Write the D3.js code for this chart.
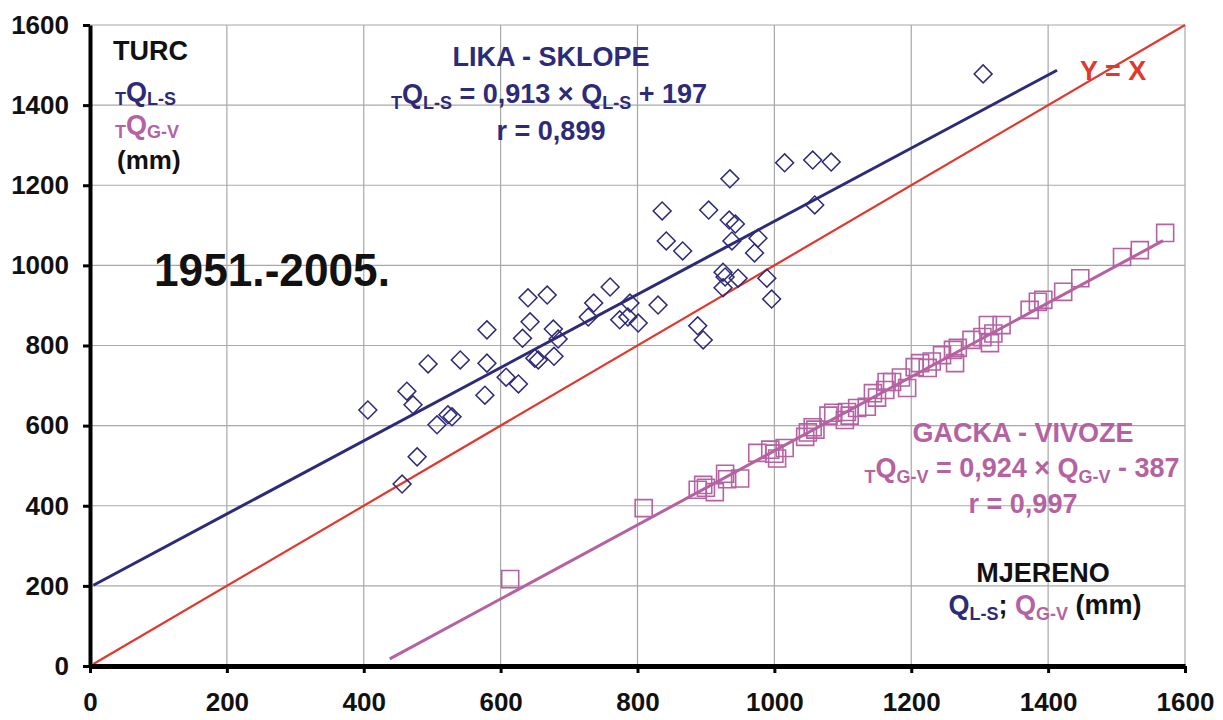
<!DOCTYPE html>
<html>
<head>
<meta charset="utf-8">
<script src="https://cdn.jsdelivr.net/npm/d3@7"></script>
<style>
  body { margin: 0; background: #fff; }
  svg text { font-family: "Liberation Sans", Arial, sans-serif; font-weight: bold; }
</style>
</head>
<body>
<script>
// Lika - Sklope: measured (x) vs Turc (y), mm
var likaMeasured = [406,456,463,472,478,494,507,523,529,541,577,580,580,608,626,632,640,643,650,655,
    668,677,684,678,728,736,760,774,786,789,801,830,888,896,925,928,925,947,989,996,
    836,842,866,904,935,934,943,938,976,971,1015,1056,1083,1059,1305];
var likaTurc = [639,454,686,652,522,754,602,627,622,764,676,756,839,721,704,818,919,859,768,764,
    926,841,816,773,871,906,946,864,871,906,856,901,849,814,983,971,944,968,968,916,
    1136,1061,1036,1138,1216,1113,1103,1061,1068,1031,1256,1263,1258,1151,1478];

// Gacka - Vivoze: measured (x) vs Turc (y), mm
var gackaMeasured = [614,809,888,896,900,913,928,931,950,975,994,1000,1004,1015,1045,1049,1056,1060,1079,1086,
    1103,1106,1110,1121,1135,1144,1150,1162,1164,1172,1185,1194,1205,1213,1224,1230,1245,1261,1264,1268,
    1288,1304,1312,1315,1320,1332,1373,1385,1393,1422,1447,1508,1534,1571];
var gackaTurc = [217,394,440,452,445,434,480,466,468,532,540,530,518,544,572,583,596,590,625,632,
    614,634,625,644,647,681,670,689,709,709,720,694,746,756,744,760,776,789,756,794,
    814,821,851,806,830,851,889,909,914,934,968,1021,1038,1081];

// regression lines: [slope, intercept, xStart, xEnd]
var likaFit = [0.913, 197, 5, 1413];
var gackaFit = [0.924, -387, 438, 1568];
var identity = [1, 0, 5, 1600];

var axisTicks = [0, 200, 400, 600, 800, 1000, 1200, 1400, 1600];

var navy = "#2d2a78", pink = "#b562a3", red = "#e2382c";

var width = 1223, height = 720;
var svg = d3.select("body").append("svg")
    .attr("width", width)
    .attr("height", height);

var x = d3.scaleLinear().domain([0, 1600]).range([90, 1185]);
var y = d3.scaleLinear().domain([0, 1600]).range([666, 25]);

//grid lines
svg.append("g").selectAll("line.gx")
    .data(axisTicks.slice(1))
    .enter().append("line")
    .attr("x1", function(d){ return x(d); })
    .attr("x2", function(d){ return x(d); })
    .attr("y1", y(0)).attr("y2", y(1600))
    .attr("stroke", "#a8a8a8").attr("stroke-width", 1.2);
svg.append("g").selectAll("line.gy")
    .data(axisTicks.slice(1))
    .enter().append("line")
    .attr("y1", function(d){ return y(d); })
    .attr("y2", function(d){ return y(d); })
    .attr("x1", x(0)).attr("x2", x(1600))
    .attr("stroke", "#a8a8a8").attr("stroke-width", 1.2);

//fit lines
function fitLine(fit, color, w){
    svg.append("line")
        .attr("x1", x(fit[2])).attr("y1", y(fit[0] * fit[2] + fit[1]))
        .attr("x2", x(fit[3])).attr("y2", y(fit[0] * fit[3] + fit[1]))
        .attr("stroke", color).attr("stroke-width", w);
}
fitLine(identity, red, 2.2);
fitLine(likaFit, navy, 3);
fitLine(gackaFit, pink, 3);

//diamonds
var diamond = d3.symbol().type(d3.symbolSquare).size(160);
svg.append("g").selectAll("path")
    .data(likaMeasured)
    .enter().append("path")
    .attr("d", diamond)
    .attr("transform", function(d, i){ return "translate(" + x(d) + "," + y(likaTurc[i]) + ") rotate(45)"; })
    .attr("fill", "none")
    .attr("stroke", navy)
    .attr("stroke-width", 1.5);

//squares
var square = d3.symbol().type(d3.symbolSquare).size(290);
svg.append("g").selectAll("path")
    .data(gackaMeasured)
    .enter().append("path")
    .attr("d", square)
    .attr("transform", function(d, i){ return "translate(" + x(d) + "," + y(gackaTurc[i]) + ")"; })
    .attr("fill", "none")
    .attr("stroke", pink)
    .attr("stroke-width", 1.6);

//axes
var yAxis = svg.append("g")
    .attr("transform", "translate(" + x(0) + ",0)")
    .call(d3.axisLeft(y).tickValues(axisTicks).tickFormat(d3.format("d")).tickSize(7).tickPadding(14).tickSizeOuter(0));
var xAxis = svg.append("g")
    .attr("transform", "translate(0," + y(0) + ")")
    .call(d3.axisBottom(x).tickValues(axisTicks).tickFormat(d3.format("d")).tickSize(7).tickPadding(20).tickSizeOuter(0));
yAxis.select(".domain").attr("stroke", "#000").attr("stroke-width", 4);
xAxis.select(".domain").attr("stroke", "#000").attr("stroke-width", 5);
svg.selectAll(".tick line").attr("stroke", "#000").attr("stroke-width", 3);
svg.selectAll(".tick text").attr("fill", "#111").style("font-size", "26px");

//rich text with subscripts
function richText(px, py, parts, anchor, size, shift){
    shift = shift || 6;
    var t = svg.append("text")
        .attr("x", px).attr("y", py)
        .attr("text-anchor", anchor || "start")
        .style("font-size", size + "px");
    var down = false;
    parts.forEach(function(p){
        var s = t.append("tspan").text(p.t).attr("fill", p.c);
        if (p.sub && !down){ s.attr("dy", shift); down = true; }
        else if (!p.sub && down){ s.attr("dy", -shift); down = false; }
        if (p.sub) s.style("font-size", Math.round(size * 0.66) + "px");
    });
    return t;
}

richText(113, 60, [{t: "TURC", c: "#111"}], "start", 27);
richText(115, 101, [{t: "T", c: navy, sub: true}, {t: "Q", c: navy}, {t: "L-S", c: navy, sub: true}], "start", 27, 4);
richText(115, 134, [{t: "T", c: pink, sub: true}, {t: "Q", c: pink}, {t: "G-V", c: pink, sub: true}], "start", 27, 4);
richText(117, 169, [{t: "(mm)", c: "#111"}], "start", 26);

richText(551, 66, [{t: "LIKA - SKLOPE", c: navy}], "middle", 27);
richText(549, 103, [{t: "T", c: navy, sub: true}, {t: "Q", c: navy}, {t: "L-S", c: navy, sub: true},
    {t: " = 0,913 × Q", c: navy}, {t: "L-S", c: navy, sub: true}, {t: " + 197", c: navy}], "middle", 27);
richText(551, 140, [{t: "r = 0,899", c: navy}], "middle", 27);

richText(272, 286, [{t: "1951.-2005.", c: "#111"}], "middle", 46).attr("textLength", 236).attr("lengthAdjust", "spacingAndGlyphs");

richText(1080, 80, [{t: "Y = X", c: red}], "start", 27);

richText(1023, 442, [{t: "GACKA - VIVOZE", c: pink}], "middle", 27);
richText(1022, 477, [{t: "T", c: pink, sub: true}, {t: "Q", c: pink}, {t: "G-V", c: pink, sub: true},
    {t: " = 0,924 × Q", c: pink}, {t: "G-V", c: pink, sub: true}, {t: " - 387", c: pink}], "middle", 27);
richText(1023, 513, [{t: "r = 0,997", c: pink}], "middle", 27);

richText(1043, 582, [{t: "MJERENO", c: "#111"}], "middle", 27);
richText(1045, 614, [{t: "Q", c: navy}, {t: "L-S", c: navy, sub: true}, {t: "; ", c: "#111"},
    {t: "Q", c: pink}, {t: "G-V", c: pink, sub: true}, {t: " (mm)", c: "#111"}], "middle", 27);
</script>
</body>
</html>
